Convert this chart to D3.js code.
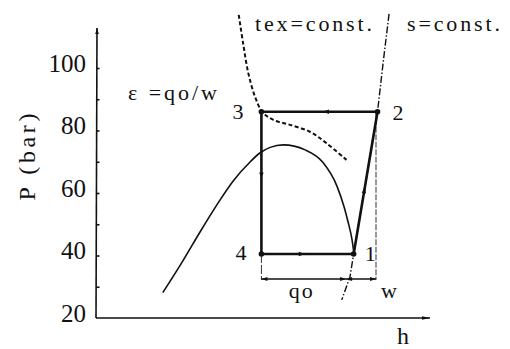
<!DOCTYPE html>
<html>
<head>
<meta charset="utf-8">
<script src="https://cdn.jsdelivr.net/npm/d3@7/dist/d3.min.js"></script>
<style>
  html, body { margin: 0; padding: 0; background: #fff; }
</style>
</head>
<body>
<svg id="chart" width="510" height="349" font-family="'Liberation Serif', 'Times New Roman', Tinos, 'DejaVu Serif', serif"></svg>
<script>
// Pressure axis ticks and labels (bar)
const pTicks = [30, 40, 50, 60, 70, 80, 90, 100];
const pLabels = [20, 40, 60, 80, 100];

// Two-phase dome (h in kJ/kg, P in bar)
const domeH = [184, 210, 231, 252, 273, 294, 306, 319, 335.5, 363, 385, 403, 412, 417, 422, 424.5];
const domeP = [28.1, 38.6, 47.6, 56.2, 64.0, 70.0, 72.8, 74.6, 75.4, 73.8, 69.9, 62.2, 55.5, 50.7, 45.0, 40.3];

// Isotherm at gas-cooler exit temperature (tex = const.)
const isoH = [279.5, 285, 291.5, 300, 309, 323, 344, 369, 390, 415];
const isoP = [117.0, 107.9, 98.4, 90.8, 86.0, 83.4, 81.8, 79.6, 75.9, 70.6];

// Isentrope through the compression (s = const.)
const isenH = [468.5, 461.5, 454, 424, 419.4, 409];
const isenP = [117.3, 102.6, 86.0, 40.5, 33.2, 25.8];

// Cycle state points
const stateNames = ["1", "2", "3", "4"];
const stateH = [424, 454, 308, 308];
const stateP = [40.5, 86.0, 86.0, 40.5];

// Dimension line for qo and w
const dimP = 32.5;
const splitH = 414.5;

const svg = d3.select("#chart");
const x = d3.scaleLinear().domain([100, 520]).range([96, 430]);
const y = d3.scaleLinear().domain([20, 100]).range([318, 68]);
const line = d3.line().x(d => x(d[0])).y(d => y(d[1]));
const curve = d3.line().x(d => x(d[0])).y(d => y(d[1])).curve(d3.curveCatmullRom.alpha(0.5));
const smooth = d3.line().x(d => x(d[0])).y(d => y(d[1])).curve(d3.curveMonotoneX);
const zip = (a, b) => a.map((v, i) => [v, b[i]]);

// Small arrowhead helper: tip at (tx,ty), pointing along angle (radians)
function arrowHead(g, tx, ty, ang, len, half) {
  const bx = tx - len * Math.cos(ang), by = ty - len * Math.sin(ang);
  const px = -Math.sin(ang) * half, py = Math.cos(ang) * half;
  g.append("path")
    .attr("d", `M${tx},${ty}L${bx + px},${by + py}L${bx - px},${by - py}Z`)
    .attr("fill", "#111");
}

// Axes
const axisG = svg.append("g");
axisG.append("line")
  .attr("x1", x(100)).attr("y1", y(20)).attr("x2", x(100) + 1).attr("y2", y(112.8))
  .attr("stroke", "#111").attr("stroke-width", 1.6);
arrowHead(axisG, x(100) + 1, y(112.8), -Math.PI / 2, 6, 1.8);
axisG.append("line")
  .attr("x1", x(100)).attr("y1", y(20)).attr("x2", x(520)).attr("y2", y(20))
  .attr("stroke", "#111").attr("stroke-width", 1.6);
arrowHead(axisG, x(520), y(20), 0, 8, 1.8);

const yAxis = d3.axisRight(y).tickValues(pTicks).tickSize(3).tickFormat("");
const yg = svg.append("g").attr("transform", `translate(${x(100) + 0.5},0)`).call(yAxis);
yg.select(".domain").remove();
yg.selectAll(".tick line").attr("stroke", "#111").attr("stroke-width", 1.6);

svg.append("g").selectAll("text").data(pLabels).join("text")
  .attr("x", 86).attr("y", d => y(d) - 5)
  .attr("dominant-baseline", "central")
  .attr("text-anchor", "end")
  .attr("font-size", 25)
  .attr("fill", "#111")
  .text(d => d);

svg.append("text")
  .attr("transform", `translate(35,157) rotate(-90)`)
  .attr("text-anchor", "middle")
  .attr("font-size", 24)
  .attr("fill", "#111")
  .attr("textLength", 87).attr("lengthAdjust", "spacing")
  .text("P (bar)");

svg.append("text")
  .attr("x", 397).attr("y", 344)
  .attr("font-size", 24)
  .attr("fill", "#111")
  .text("h");

// Dome
svg.append("path")
  .attr("d", smooth(zip(domeH, domeP)))
  .attr("fill", "none").attr("stroke", "#111").attr("stroke-width", 1.6);

// Isotherm
svg.append("path")
  .attr("d", curve(zip(isoH, isoP)))
  .attr("fill", "none").attr("stroke", "#111").attr("stroke-width", 2)
  .attr("stroke-dasharray", "4,2.5");

// Isentrope
svg.append("path")
  .attr("d", line(zip(isenH, isenP)))
  .attr("fill", "none").attr("stroke", "#111").attr("stroke-width", 1.4)
  .attr("stroke-dasharray", "7,2,1.5,2");

// Vertical extension lines to the dimension line
const extG = svg.append("g");
[stateH[3], stateH[1]].forEach((h, i) => {
  extG.append("line")
    .attr("x1", x(h) - (i ? 1.5 : 0)).attr("x2", x(h) - (i ? 1.5 : 0))
    .attr("y1", y(i ? stateP[1] : stateP[3])).attr("y2", y(dimP) + 1)
    .attr("stroke", "#333").attr("stroke-width", 1)
    .attr("stroke-dasharray", i ? "6,1.5" : "9,2");
});

// Dimension line with arrows
const dimG = svg.append("g");
const xs = [x(stateH[3]), x(splitH), x(stateH[1]) - 1.5];
dimG.append("line")
  .attr("x1", xs[0]).attr("x2", xs[2]).attr("y1", y(dimP)).attr("y2", y(dimP))
  .attr("stroke", "#111").attr("stroke-width", 1.4);
arrowHead(dimG, xs[0], y(dimP), Math.PI, 6, 2);
arrowHead(dimG, xs[1], y(dimP), 0, 6, 2);
arrowHead(dimG, xs[1], y(dimP), Math.PI, 6, 2);
arrowHead(dimG, xs[2], y(dimP), 0, 6, 2);

svg.append("text")
  .attr("x", (xs[0] + xs[1]) / 2 - 3).attr("y", y(dimP) + 19)
  .attr("text-anchor", "middle").attr("font-size", 22).attr("fill", "#111")
  .attr("textLength", 24).attr("lengthAdjust", "spacing")
  .text("qo");
svg.append("text")
  .attr("x", xs[2] + 13).attr("y", y(dimP) + 19)
  .attr("text-anchor", "middle").attr("font-size", 22).attr("fill", "#111")
  .text("w");

// Cycle 1 -> 2 -> 3 -> 4 -> 1
const order = [0, 1, 2, 3, 0];
const cyclePts = order.map(i => [stateH[i], stateP[i]]);
svg.append("path")
  .attr("d", line(cyclePts))
  .attr("fill", "none").attr("stroke", "#111").attr("stroke-width", 2.6)
  .attr("stroke-linejoin", "miter");

// Flow direction arrows on each process
const flowG = svg.append("g");
for (let k = 0; k < 4; k++) {
  const a = cyclePts[k], b = cyclePts[k + 1];
  const ax = x(a[0]), ay = y(a[1]), bx = x(b[0]), by = y(b[1]);
  const t = 0.47;
  const tx = ax + (bx - ax) * t, ty = ay + (by - ay) * t;
  arrowHead(flowG, tx, ty, Math.atan2(by - ay, bx - ax), 6, 2.2);
}

// State points and numbers
svg.append("g").selectAll("circle").data(stateNames).join("circle")
  .attr("cx", (d, i) => x(stateH[i])).attr("cy", (d, i) => y(stateP[i]))
  .attr("r", 2.8).attr("fill", "#111");

const labelOffsets = [[11, 7], [15, 8], [-29, 7], [-26, 6]];
svg.append("g").selectAll("text").data(stateNames).join("text")
  .attr("x", (d, i) => x(stateH[i]) + labelOffsets[i][0])
  .attr("y", (d, i) => y(stateP[i]) + labelOffsets[i][1])
  .attr("font-size", 22).attr("fill", "#111")
  .text(d => d);

// Annotations
svg.append("text").attr("x", 255).attr("y", 31).attr("font-size", 22).attr("fill", "#111")
  .attr("textLength", 117).attr("lengthAdjust", "spacing").text("tex=const.");
svg.append("text").attr("x", 407).attr("y", 31).attr("font-size", 22).attr("fill", "#111")
  .attr("textLength", 93).attr("lengthAdjust", "spacing").text("s=const.");
svg.append("text").attr("x", 128).attr("y", 100).attr("font-size", 22).attr("fill", "#111")
  .attr("textLength", 89).attr("lengthAdjust", "spacing").text("ε =qo/w");
</script>
</body>
</html>
